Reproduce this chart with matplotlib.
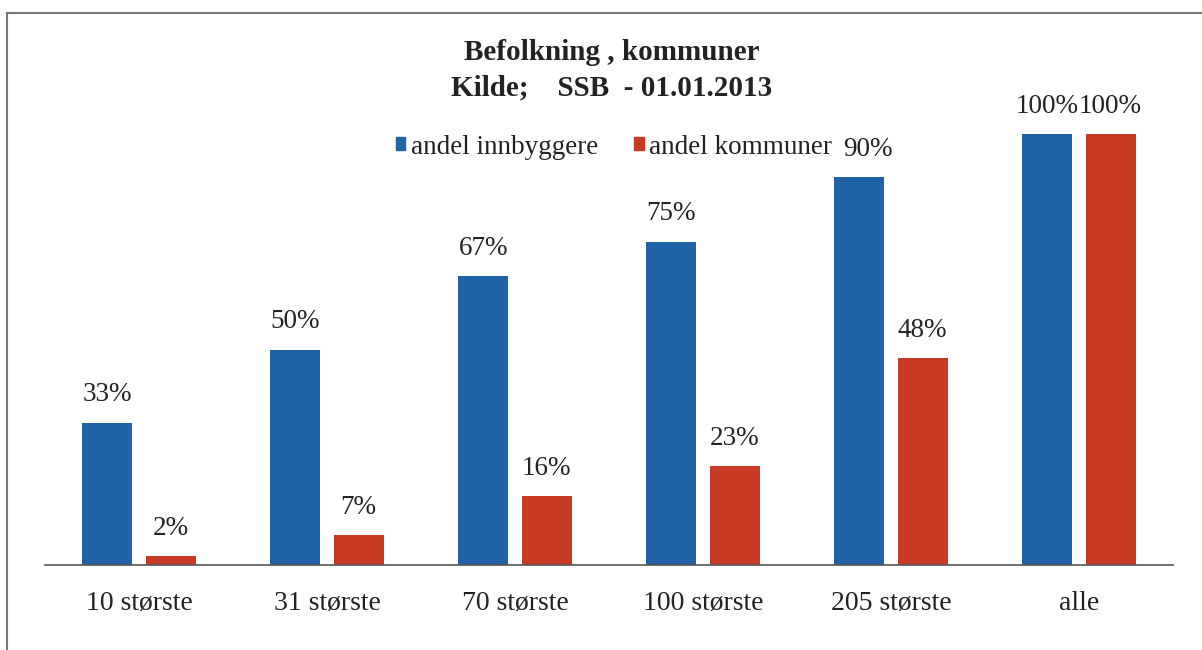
import matplotlib
matplotlib.use("Agg")
import matplotlib.pyplot as plt
from matplotlib.lines import Line2D
from matplotlib.patches import Patch
import numpy as np

plt.rcParams['font.family'] = ['Liberation Serif', 'DejaVu Serif']

categories = ['10 største', '31 største', '70 største', '100 største', '205 største', 'alle']
andel_innbyggere = [0.33, 0.50, 0.67, 0.75, 0.90, 1.00]
andel_kommuner = [0.02, 0.07, 0.16, 0.23, 0.48, 1.00]
series_names = ['andel innbyggere', 'andel kommuner']

blue = '#1f62a5'
red = '#c83a24'
text_col = '#222222'

fig = plt.figure(figsize=(12.02, 6.5), dpi=100)
ax = fig.add_axes([45 / 1202, 85 / 650, 1128 / 1202, 545 / 650])

x = np.arange(len(categories))
w = 0.266
off = 0.1676
b1 = ax.bar(x - off, andel_innbyggere, w, color=blue)
b2 = ax.bar(x + off, andel_kommuner, w, color=red)

for bars, vals in ((b1, andel_innbyggere), (b2, andel_kommuner)):
    for r, v in zip(bars, vals):
        dx = 0
        # label moved clear of the legend, as in the original
        if bars is b1 and v == 0.90:
            dx = 6
        ax.annotate('%d%%' % round(v * 100), (r.get_x() + r.get_width() / 2, v),
                    xytext=(dx, 20), textcoords='offset points', ha='center', va='center',
                    fontsize=19.5, color=text_col)

ax.set_xlim(-0.5, len(categories) - 0.5)
ax.set_ylim(0, 545 / 431)
ax.set_xticks(x)
ax.set_xticklabels(categories, fontsize=20, color=text_col)
ax.tick_params(axis='x', length=0, pad=19)
ax.set_yticks([])
for s in ('left', 'right', 'top'):
    ax.spines[s].set_visible(False)
ax.spines['bottom'].set_color('#555555')
ax.spines['bottom'].set_linewidth(1.2)

fig.text(612 / 1202, 1 - 53 / 650, 'Befolkning , kommuner', ha='center', va='center',
         fontsize=21, fontweight='bold', color=text_col)
fig.text(612 / 1202, 1 - 88 / 650, 'Kilde;    SSB  - 01.01.2013', ha='center', va='center',
         fontsize=21, fontweight='bold', color=text_col)

handles = [Patch(color=blue), Patch(color=red)]
fig.legend(handles, series_names, loc='center', bbox_to_anchor=(614 / 1202, 1 - 147 / 650),
           ncol=2, frameon=False, fontsize=19.5, handlelength=0.35, handleheight=0.35,
           handletextpad=0.2, columnspacing=1.35, labelcolor=text_col)

# scan frame
fig.add_artist(Line2D([7 / 1202, 7 / 1202], [0, 1 - 13 / 650], color='#777777', lw=1.5))
fig.add_artist(Line2D([7 / 1202, 1], [1 - 13 / 650, 1 - 13 / 650], color='#777777', lw=1.5))

fig.savefig('out.png', dpi=100)
